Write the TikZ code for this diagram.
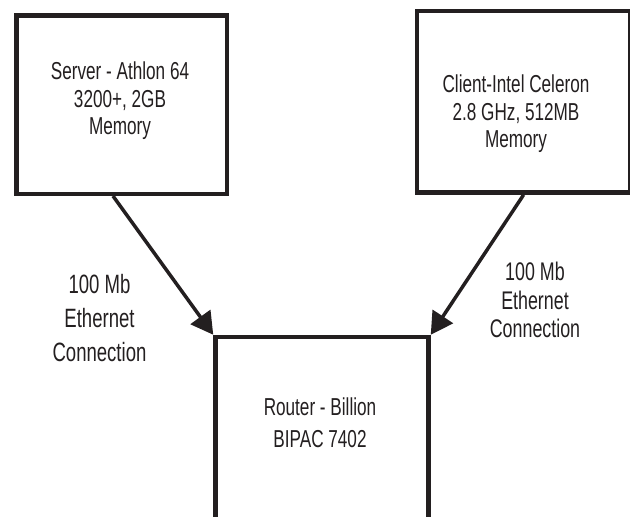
\documentclass[tikz,border=0pt]{standalone}
\usepackage{fontspec}
\setmainfont[FakeStretch=0.70]{Liberation Sans}
\usetikzlibrary{arrows.meta}
\definecolor{ink}{RGB}{35,31,32}
\begin{document}
\begin{tikzpicture}[x=1pt,y=-1pt,
  box/.style={draw=ink, line width=4.5pt, rectangle, inner sep=0pt},
  conn/.style={draw=ink, line width=3.5pt, -{Triangle[length=22pt,width=24pt]}},
  txt/.style={text=ink, align=center, inner sep=0pt}]
\useasboundingbox (0,0) rectangle (630,517);
\begin{scope}
\clip (0,0) rectangle (630,517);
\node[box, minimum width=210.5pt, minimum height=178.5pt] (server) at (121.5,104.5) {};
\node[box, minimum width=212.75pt, minimum height=181.7pt] (client) at (523.6,101.7) {};
\node[box, minimum width=213pt, minimum height=183pt] (router) at (322,428.5) {};
\end{scope}
\node[txt, font=\fontsize{24.5}{27.5}\selectfont] (servertxt) at (120,101) {Server - Athlon 64\\3200+, 2GB\\Memory};
\node[txt, font=\fontsize{24.5}{27.5}\selectfont] (clienttxt) at (516,114) {Client-Intel Celeron\\2.8 GHz, 512MB\\Memory};
\node[txt, font=\fontsize{24.5}{32}\selectfont] (routertxt) at (320,423) {Router - Billion\\BIPAC 7402};
\node[txt, font=\fontsize{26.5}{34}\selectfont] (leftlbl) at (99.5,318) {100 Mb\\Ethernet\\Connection};
\node[txt, font=\fontsize{25.5}{28.5}\selectfont] (rightlbl) at (535,300) {100 Mb\\Ethernet\\Connection};
\draw[conn] ([xshift=-8.5pt]server.south) -- (router.north west);
\draw[conn] (client.south) -- (router.north east);
\end{tikzpicture}
\end{document}
